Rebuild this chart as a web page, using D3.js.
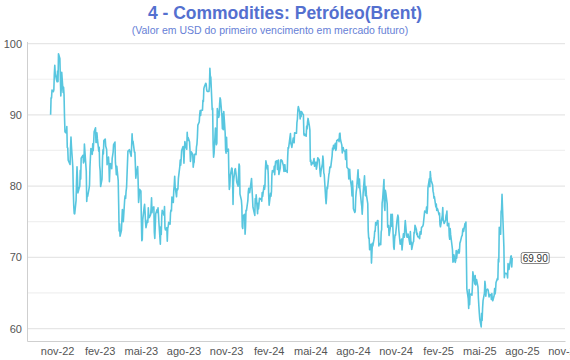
<!DOCTYPE html>
<html>
<head>
<meta charset="utf-8">
<script src="https://cdn.jsdelivr.net/npm/d3@7"></script>
<style>
  body { margin: 0; background: #fff; }
  svg { font-family: "Liberation Sans", Arial, Helvetica, sans-serif; display: block; }
</style>
</head>
<body>
<div id="chart"></div>
<script>
// Brent front-month closes, one value per trading day
let firstDay = "2022-10-18";
let lastDay = "2025-07-11";
let holidays = ["2022-12-26", "2023-01-02", "2023-04-07", "2023-12-25", "2024-01-01",
  "2024-03-29", "2024-12-25", "2025-01-01", "2025-04-18"];

let brent2022 = [
  90.03, 92.41, 92.38, 93.50, 93.26, 93.52, 95.69, 96.96, 95.77, 94.83,
  94.65, 96.16, 94.67, 98.57, 97.92, 95.36, 92.65, 93.67, 95.99, 93.14, 93.86, 92.86, 89.78, 87.62, 87.45, 88.36, 85.41, 85.34, 83.63, 83.19, 83.03, 85.43,
  86.88, 85.57, 82.68, 79.35, 77.17, 76.15, 76.10, 77.99, 80.68, 82.70, 81.21, 79.04, 79.80, 79.99, 82.20, 80.98, 83.92, 84.33, 83.26, 83.46, 85.91
];
let brent2023 = [
  82.10, 77.84, 78.69, 78.57, 79.65, 80.10, 82.67, 84.03, 85.28, 84.46, 85.92, 84.98, 86.16, 87.63, 88.19, 86.13, 86.12, 87.47, 86.66, 84.90, 85.46,
  82.84, 82.17, 79.94, 80.99, 83.69, 85.09, 84.50, 86.39, 86.61, 85.58, 85.38, 85.14, 83.00, 84.07, 83.05, 80.60, 82.21, 83.16, 82.45, 83.89,
  84.31, 84.75, 85.83, 86.18, 83.29, 82.66, 81.59, 82.78, 80.77, 77.45, 73.69, 74.70, 72.97, 73.79, 75.32, 76.69, 75.91, 74.99, 78.12, 78.65, 78.28, 79.27, 79.77,
  84.93, 84.94, 84.99, 85.12, 84.18, 85.61, 87.33, 86.09, 86.31, 84.76, 84.77, 83.12, 81.10, 81.66, 82.73, 80.77, 77.69, 78.37, 79.54,
  79.31, 75.32, 72.33, 72.50, 75.30, 77.01, 77.44, 76.41, 74.98, 74.17, 75.23, 74.91, 76.96, 75.86, 75.58, 75.99, 76.84, 78.36, 76.26, 76.95, 77.07, 73.54, 72.66,
  74.28, 76.13, 76.71, 76.29, 76.95, 75.96, 74.79, 71.84, 74.29, 73.20, 75.67, 76.61, 76.09, 75.90, 77.12, 74.14, 73.85, 74.18, 72.26, 74.03, 74.34, 74.90,
  74.65, 76.25, 76.65, 76.52, 78.47, 77.69, 79.40, 80.11, 81.36, 79.87, 78.50, 79.63, 79.46, 79.64, 81.07, 82.74, 83.64, 82.92, 83.82, 84.99, 85.56,
  84.91, 83.20, 85.14, 86.24, 85.34, 85.17, 87.55, 86.40, 86.81, 86.21, 85.18, 83.45, 84.12, 84.80, 84.46, 82.64, 83.21, 83.36, 84.48, 84.42, 85.49, 85.86, 86.86,
  88.55, 89.00, 90.04, 90.60, 89.92, 90.65, 90.64, 92.06, 91.88, 93.70, 93.93, 94.43, 94.34, 93.53, 93.30, 93.27, 93.29, 93.96, 96.55, 95.38, 95.31,
  90.71, 90.92, 85.81, 84.07, 84.58, 88.15, 87.65, 85.82, 86.00, 90.89, 89.65, 89.90, 91.50, 92.38, 92.16, 89.83, 88.07, 90.13, 87.93, 90.48, 87.45, 85.02,
  84.63, 86.85, 84.89, 85.18, 81.61, 79.54, 80.01, 81.43, 82.52, 82.47, 81.18, 77.42, 80.61, 82.32, 82.45, 81.96, 81.42, 80.58, 79.98, 81.68, 83.10, 82.83,
  78.88, 78.03, 77.20, 74.30, 74.05, 75.84, 76.03, 73.24, 74.26, 76.61, 76.55, 77.95, 79.23, 79.70, 79.39, 79.07, 81.07, 79.65, 78.39, 77.04
];
let brent2024 = [
  75.89, 78.25, 77.59, 78.76, 76.12, 77.59, 76.80, 77.41, 78.29, 78.15, 78.29, 77.88, 79.10, 78.56, 80.06, 79.55, 80.04, 82.43, 83.55, 82.40, 82.87, 81.71,
  78.70, 77.33, 78.99, 78.59, 79.21, 81.63, 82.19, 82.00, 82.77, 81.60, 82.86, 83.47, 83.56, 82.34, 83.03, 83.67, 81.62, 82.53, 83.65, 83.68, 83.62,
  83.55, 82.80, 82.04, 82.96, 83.00, 82.08, 82.21, 81.92, 84.03, 85.42, 85.34, 86.89, 87.38, 85.95, 85.78, 85.43, 86.75, 86.25, 86.09, 87.48,
  87.42, 88.92, 89.35, 90.65, 91.17, 90.38, 89.42, 90.48, 89.74, 90.45, 90.10, 90.02, 87.29, 87.11, 87.29, 87.00, 88.42, 88.02, 89.01, 89.50, 88.40, 87.86,
  83.44, 83.67, 82.96, 83.33, 83.16, 83.58, 83.88, 82.79, 83.36, 82.38, 82.75, 83.27, 83.98, 83.71, 82.88, 81.90, 81.36, 82.12, 83.10, 84.22, 83.60, 81.86, 81.62,
  78.36, 77.52, 78.41, 79.87, 79.62, 81.63, 81.92, 82.60, 82.75, 82.62, 84.25, 85.33, 85.07, 85.71, 85.24, 86.01, 85.01, 85.25, 86.39, 86.41,
  86.60, 86.24, 87.34, 87.43, 86.54, 85.75, 84.66, 85.08, 85.40, 85.03, 84.85, 83.73, 85.08, 85.11, 82.63, 82.40, 81.01, 81.71, 82.37, 81.13, 79.78, 78.63, 80.72,
  79.52, 76.81, 76.30, 76.48, 78.33, 79.16, 79.66, 82.30, 80.69, 79.76, 80.98, 79.68, 77.66, 77.20, 76.05, 77.22, 79.02, 81.43, 79.55, 78.65, 79.94, 78.80,
  77.52, 73.75, 72.70, 72.69, 71.06, 71.84, 69.19, 70.61, 71.97, 71.61, 72.75, 73.70, 73.65, 74.88, 74.49, 75.17, 75.17, 73.46, 71.60, 71.98, 71.77,
  73.56, 73.90, 77.62, 78.05, 80.93, 77.18, 76.58, 79.40, 79.04, 77.46, 74.25, 74.22, 74.45, 73.06, 74.29, 76.04, 74.96, 74.38, 76.05, 71.42, 71.12, 72.55, 73.16,
  73.10, 75.08, 75.53, 75.92, 75.63, 73.87, 71.83, 71.89, 72.28, 72.56, 71.04, 73.30, 73.31, 72.81, 74.23, 75.17, 73.01, 72.81, 72.83, 73.28, 72.94,
  71.83, 73.62, 72.31, 72.09, 71.12, 72.14, 72.19, 73.52, 73.41, 74.49, 73.91, 73.19, 73.39, 72.88, 72.94, 72.63, 73.58, 73.26, 74.17, 74.39, 74.64
];
let brent2025 = [
  75.93, 76.51, 76.30, 77.05, 76.16, 76.92, 79.76, 81.01, 79.92, 82.03, 81.29, 80.79, 80.15, 79.29, 79.00, 78.29, 78.50, 77.08, 77.49, 76.58, 76.87, 76.76,
  75.96, 76.20, 74.61, 74.29, 74.66, 75.87, 77.00, 75.18, 75.02, 74.74, 75.22, 75.84, 76.04, 76.48, 74.43, 74.78, 73.02, 72.53, 74.04, 73.18,
  71.62, 71.04, 69.30, 69.46, 70.36, 69.28, 69.56, 70.95, 69.88, 70.58, 71.07, 70.56, 70.78, 72.00, 72.16, 73.00, 73.02, 73.79, 74.03, 73.63, 74.74,
  74.49, 74.95, 70.14, 65.58, 64.21, 62.82, 65.48, 63.33, 64.76, 64.88, 64.67, 65.85, 67.96, 66.26, 67.44, 66.12, 66.55, 66.87, 65.86, 64.25, 63.12,
  62.13, 61.29, 60.23, 62.15, 61.12, 62.84, 63.91, 64.96, 66.63, 66.09, 64.53, 65.41, 65.54, 65.38, 64.91, 64.44, 64.78, 64.74, 64.09, 64.90, 64.15, 63.90,
  64.63, 65.63, 64.86, 65.34, 66.47, 67.04, 66.87, 69.77, 69.36, 74.23, 73.23, 76.45, 76.70, 78.85, 77.01, 71.48, 67.14, 67.68, 67.73, 67.77, 67.61,
  67.11, 69.11, 68.80, 68.30, 69.58, 70.15, 70.19, 68.64, 69.90
];

let yTicks = [60, 70, 80, 90, 100];
let yGrid = [60, 65, 70, 75, 80, 85, 90, 95, 100];
let xTicks = ["2022-11-01", "2023-02-01", "2023-05-01", "2023-08-01", "2023-11-01", "2024-02-01",
  "2024-05-01", "2024-08-01", "2024-11-01", "2025-02-01", "2025-05-01", "2025-08-01", "2025-11-01"];
let monthNames = ["jan", "fev", "mar", "abr", "mai", "jun", "jul", "ago", "set", "out", "nov", "dez"];

let titleText = "4 - Commodities: Petróleo(Brent)";
let subtitleText = "(Valor em USD do primeiro vencimento em mercado futuro)";

DrawChart();

function DrawChart() {
  let width = 570, height = 360;
  let plot = { left: 27, right: 565, top: 41.5, bottom: 341 };

  let parse = d3.timeParse("%Y-%m-%d");
  let fmt = d3.timeFormat("%Y-%m-%d");
  let skip = new Set(holidays);
  let days = d3.timeDay.range(parse(firstDay), d3.timeDay.offset(parse(lastDay), 1))
    .filter((d) => d.getDay() != 0 && d.getDay() != 6 && !skip.has(fmt(d)));
  let values = brent2022.concat(brent2023, brent2024, brent2025);
  let n = Math.min(days.length, values.length);
  let dataset = [];
  for (let i = 0; i < n; i++) dataset.push([days[i], values[i]]);

  let xScale = d3.scaleTime()
    .domain([parse("2022-08-28"), parse("2025-11-02")])
    .range([plot.left, plot.right]);
  let yScale = d3.scaleLinear().domain([58.25, 100.3]).range([plot.bottom, plot.top]);

  let svg = d3.select("#chart").append("svg")
    .attr("width", width)
    .attr("height", height);

  svg.append("text")
    .attr("x", 285).attr("y", 19)
    .attr("text-anchor", "middle")
    .style("font-size", "17.5px").style("font-weight", "bold")
    .style("fill", "#5470cf")
    .text(titleText);

  svg.append("text")
    .attr("x", 270).attr("y", 33.5)
    .attr("text-anchor", "middle")
    .style("font-size", "10.5px")
    .style("fill", "#6680d6")
    .text(subtitleText);

  // grid lines
  svg.append("g").selectAll("line")
    .data(yGrid)
    .enter()
    .append("line")
    .attr("x1", plot.left).attr("x2", plot.right)
    .attr("y1", (d) => yScale(d)).attr("y2", (d) => yScale(d))
    .style("stroke", (d) => d % 10 == 0 ? "#e6e6e6" : "#f0f0f0")
    .style("stroke-width", 1.2);

  let xAxis = d3.axisBottom(xScale)
    .tickValues(xTicks.map(parse))
    .tickSize(0)
    .tickPadding(6)
    .tickFormat((d) => monthNames[d.getMonth()] + "-" + d3.timeFormat("%y")(d));
  let gx = svg.append("g")
    .attr("id", "x-axis")
    .attr("transform", "translate(0," + plot.bottom + ")")
    .call(xAxis);
  gx.select(".domain").style("stroke", "#cfcfcf");
  gx.selectAll("text").style("font-size", "11px").style("fill", "#555")
    .style("font-family", "Liberation Sans, Arial, sans-serif");

  let yAxis = d3.axisLeft(yScale).tickValues(yTicks).tickSize(0).tickPadding(5);
  let gy = svg.append("g")
    .attr("id", "y-axis")
    .attr("transform", "translate(" + plot.left + ",0)")
    .call(yAxis);
  gy.select(".domain").style("stroke", "#cfcfcf");
  gy.selectAll("text").style("font-size", "11px").style("fill", "#555")
    .style("font-family", "Liberation Sans, Arial, sans-serif");

  let line = d3.line()
    .x((d) => xScale(d[0]))
    .y((d) => yScale(d[1]));

  svg.append("path")
    .datum(dataset)
    .attr("d", line)
    .style("fill", "none")
    .style("stroke", "#58c6df")
    .style("stroke-width", 1.6)
    .style("stroke-linejoin", "round");

  // last value label
  let last = dataset[dataset.length - 1];
  let lx = xScale(last[0]) + 9;
  let ly = yScale(last[1]);
  svg.append("rect")
    .attr("x", lx).attr("y", ly - 5.5)
    .attr("width", 28).attr("height", 11)
    .attr("rx", 2)
    .style("fill", "#fff").style("stroke", "#666").style("stroke-width", 0.8);
  svg.append("text")
    .attr("x", lx + 14).attr("y", ly + 3.5)
    .attr("text-anchor", "middle")
    .style("font-size", "10px").style("fill", "#333")
    .text(last[1].toFixed(2));
}
</script>
</body>
</html>
